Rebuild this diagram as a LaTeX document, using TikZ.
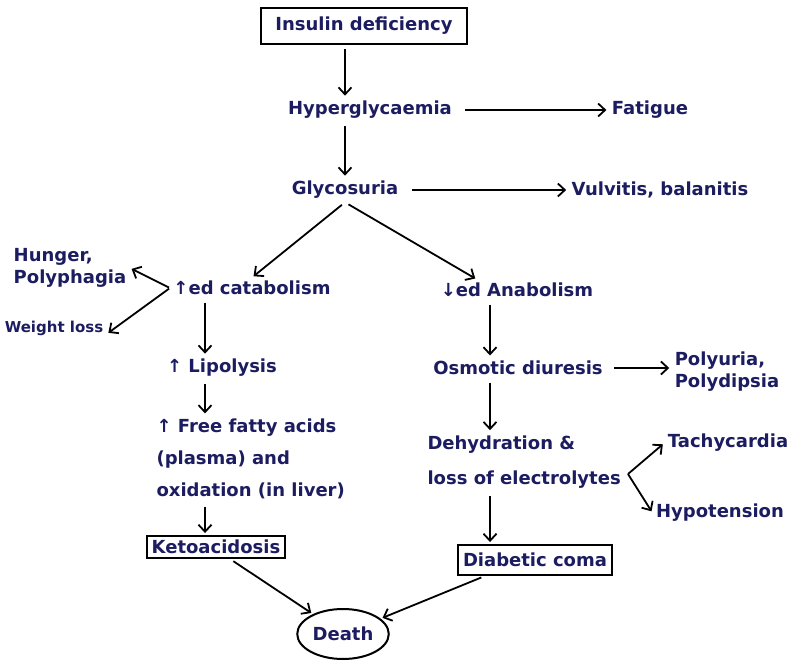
\documentclass[tikz,border=0pt]{standalone}
\usepackage{fontspec}
\setmainfont{DejaVu Sans}
\usetikzlibrary{arrows, arrows.meta, positioning, shapes.geometric}
\definecolor{inkblue}{RGB}{28, 28, 96}

\begin{document}
\begin{tikzpicture}[x=1pt, y=-1pt,
    every node/.style={text=inkblue, font=\fontsize{18}{22}\selectfont\bfseries},
    flow/.style={-{Straight Barb[length=7pt, width=13pt, line width=1.8pt]}, line width=1.8pt, black,
        shorten >=2pt, shorten <=4pt},
    boxed/.style={draw=black, line width=2pt, inner sep=5pt}]
    % page
    \fill[white] (0,0) rectangle (788,664);
    \useasboundingbox (0,0) rectangle (788,664);

    % arrow columns
    \coordinate (mcol) at (345,0);
    \coordinate (lcol) at (205,0);
    \coordinate (rcol) at (490,0);

    % main trunk
    \node[boxed, inner xsep=14pt, inner ysep=9pt] (insulin) at (364,26) {Insulin deficiency};
    \node (hyper) at (370,110) {Hyperglycaemia};
    \node (fatigue) at (650,110) {Fatigue};
    \node (glyco) at (345,190) {Glycosuria};
    \node (vulvitis) at (660,190) {Vulvitis, balanitis};

    % left branch
    \node (catab) at (252,288) {↑ed catabolism};
    \node[align=left] (hunger) at (70,268) {Hunger,\\Polyphagia};
    \node[font=\fontsize{15}{18}\selectfont\bfseries] (weight) at (54,328) {Weight loss};
    \node (lipo) at (222,368) {↑ Lipolysis};
    \node[align=left, anchor=west, font=\fontsize{18}{32}\selectfont\bfseries] (ffa) at (153,459)
        {↑ Free fatty acids\\(plasma) and\\oxidation (in liver)};
    \node[boxed, inner ysep=4pt] (keto) at (216,547) {Ketoacidosis};

    % right branch
    \node (anab) at (517,290) {↓ed Anabolism};
    \node (osmo) at (518,368) {Osmotic diuresis};
    \node[align=left] (poly) at (727,372) {Polyuria,\\Polydipsia};
    \node[align=left, anchor=west, font=\fontsize{18}{35}\selectfont\bfseries] (dehyd) at (424,462)
        {Dehydration \&\\loss of electrolytes};
    \coordinate (dfork) at (628,474);
    \node (tachy) at (728,443) {Tachycardia};
    \node (hypot) at (720,513) {Hypotension};
    \node[boxed, inner ysep=8pt] (coma) at (535,560) {Diabetic coma};

    \node[ellipse, draw=black, line width=2pt, inner sep=2pt,
        minimum width=85pt, minimum height=50pt] (death) at (343,634) {Death};

    % connectors
    \draw[flow] (insulin.south -| mcol) -- (hyper.north -| mcol);
    \draw[flow] (hyper.south -| mcol) -- (glyco.north -| mcol);
    \draw[flow, shorten <=10pt] (hyper.east) -- (fatigue.west);
    \draw[flow, shorten <=10pt] (glyco.east) -- (vulvitis.west);
    \draw[flow] (glyco.south) -- (catab.north);
    \draw[flow] (glyco.south) -- ([xshift=-40pt]anab.north);
    \draw[flow, shorten <=1pt] (catab.west) -- (hunger.east);
    \draw[flow, shorten <=1pt] (catab.west) -- ([yshift=-6pt]weight.east);
    \draw[flow] (catab.south -| lcol) -- (lipo.north -| lcol);
    \draw[flow] (lipo.south -| lcol) -- (ffa.north -| lcol);
    \draw[flow] (ffa.south -| lcol) -- (keto.north -| lcol);
    \draw[flow] (anab.south -| rcol) -- (osmo.north -| rcol);
    \draw[flow, shorten <=8pt] (osmo.east) -- (osmo.east -| poly.west);
    \draw[flow] (osmo.south -| rcol) -- (dehyd.north -| rcol);
    \draw[flow, shorten <=0pt] (dfork) -- (tachy.west);
    \draw[flow, shorten <=0pt] (dfork) -- (hypot.west);
    \draw[flow] (dehyd.south -| rcol) -- (coma.north -| rcol);
    \draw[flow] ([xshift=14pt]keto.south) -- (death);
    \draw[flow] ([xshift=-50pt]coma.south) -- (death);
\end{tikzpicture}
\end{document}
